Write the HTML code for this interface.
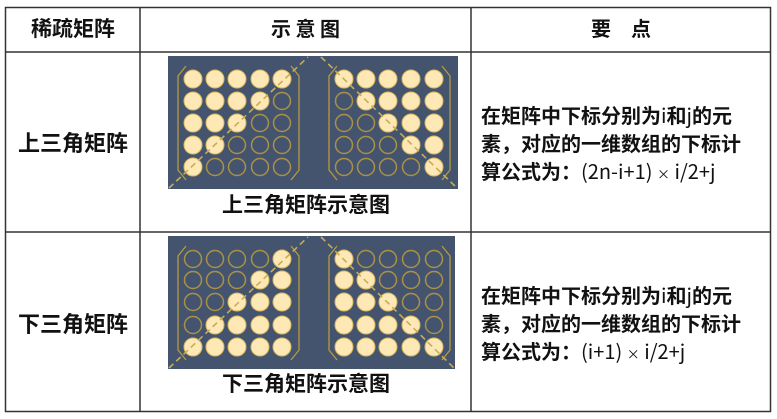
<!DOCTYPE html>
<html><head><meta charset="utf-8"><style>
body{margin:0;width:777px;height:419px;background:#fff;overflow:hidden;position:relative;font-family:"Noto Sans CJK SC","Liberation Sans",sans-serif;}
.t{position:absolute;font-weight:bold;color:#111;white-space:nowrap;}
.l{font-weight:normal}
svg{position:absolute;left:0;top:0}
</style></head><body>
<svg width="777" height="419" viewBox="0 0 777 419">
<defs>
<circle id="f" r="9" fill="#fde8b6" stroke="#d9b860" stroke-width="1"/>
<circle id="e" r="8.5" fill="none" stroke="#a99246" stroke-width="1.5"/>
</defs>
<g fill="none" stroke="#333" stroke-width="1.5">
<rect x="5.5" y="7.5" width="765" height="404"/>
<line x1="5" y1="52" x2="771" y2="52"/>
<line x1="5" y1="232" x2="771" y2="232"/>
<line x1="140" y1="7" x2="140" y2="412"/>
<line x1="471" y1="7" x2="471" y2="412"/>
</g>
<rect x="168" y="56" width="290" height="133" fill="#45546e"/>
<g fill="none" stroke="#b59a3c" stroke-width="1.3">
<polyline points="186,66 178,76 178,170 186,180"/>
<polyline points="291,66 299,76 299,170 291,180"/>
<polyline points="337,66 329,76 329,170 337,180"/>
<polyline points="442,66 450,76 450,170 442,180"/>
</g>
<g>
<use href="#f" x="193" y="79"/><use href="#f" x="215" y="79"/><use href="#f" x="237" y="79"/><use href="#f" x="260" y="79"/><use href="#f" x="282" y="79"/>
<use href="#f" x="193" y="101"/><use href="#f" x="215" y="101"/><use href="#f" x="237" y="101"/><use href="#f" x="260" y="101"/><use href="#e" x="282" y="101"/>
<use href="#f" x="193" y="123"/><use href="#f" x="215" y="123"/><use href="#f" x="237" y="123"/><use href="#e" x="260" y="123"/><use href="#e" x="282" y="123"/>
<use href="#f" x="193" y="145"/><use href="#f" x="215" y="145"/><use href="#e" x="237" y="145"/><use href="#e" x="260" y="145"/><use href="#e" x="282" y="145"/>
<use href="#f" x="193" y="167"/><use href="#e" x="215" y="167"/><use href="#e" x="237" y="167"/><use href="#e" x="260" y="167"/><use href="#e" x="282" y="167"/>
</g>
<g>
<use href="#f" x="344" y="79"/><use href="#f" x="366" y="79"/><use href="#f" x="388" y="79"/><use href="#f" x="411" y="79"/><use href="#f" x="434" y="79"/>
<use href="#e" x="344" y="101"/><use href="#f" x="366" y="101"/><use href="#f" x="388" y="101"/><use href="#f" x="411" y="101"/><use href="#f" x="434" y="101"/>
<use href="#e" x="344" y="123"/><use href="#e" x="366" y="123"/><use href="#f" x="388" y="123"/><use href="#f" x="411" y="123"/><use href="#f" x="434" y="123"/>
<use href="#e" x="344" y="145"/><use href="#e" x="366" y="145"/><use href="#e" x="388" y="145"/><use href="#f" x="411" y="145"/><use href="#f" x="434" y="145"/>
<use href="#e" x="344" y="167"/><use href="#e" x="366" y="167"/><use href="#e" x="388" y="167"/><use href="#e" x="411" y="167"/><use href="#f" x="434" y="167"/>
</g>
<g stroke="#c7ad55" stroke-width="1.6" stroke-dasharray="6,4" fill="none">
<line x1="169" y1="188" x2="308" y2="57"/>
<line x1="321" y1="57" x2="457" y2="188"/>
</g>
<rect x="168" y="236" width="287" height="133" fill="#45546e"/>
<g fill="none" stroke="#b59a3c" stroke-width="1.3">
<polyline points="186,246 178,256 178,350 186,360"/>
<polyline points="291,246 299,256 299,350 291,360"/>
<polyline points="337,246 329,256 329,350 337,360"/>
<polyline points="442,246 450,256 450,350 442,360"/>
</g>
<g>
<use href="#e" x="193" y="259"/><use href="#e" x="215" y="259"/><use href="#e" x="237" y="259"/><use href="#e" x="260" y="259"/><use href="#f" x="282" y="259"/>
<use href="#e" x="193" y="280"/><use href="#e" x="215" y="280"/><use href="#e" x="237" y="280"/><use href="#f" x="260" y="280"/><use href="#f" x="282" y="280"/>
<use href="#e" x="193" y="302"/><use href="#e" x="215" y="302"/><use href="#f" x="237" y="302"/><use href="#f" x="260" y="302"/><use href="#f" x="282" y="302"/>
<use href="#e" x="193" y="325"/><use href="#f" x="215" y="325"/><use href="#f" x="237" y="325"/><use href="#f" x="260" y="325"/><use href="#f" x="282" y="325"/>
<use href="#f" x="193" y="347"/><use href="#f" x="215" y="347"/><use href="#f" x="237" y="347"/><use href="#f" x="260" y="347"/><use href="#f" x="282" y="347"/>
</g>
<g>
<use href="#f" x="344" y="259"/><use href="#e" x="366" y="259"/><use href="#e" x="388" y="259"/><use href="#e" x="411" y="259"/><use href="#e" x="434" y="259"/>
<use href="#f" x="344" y="280"/><use href="#f" x="366" y="280"/><use href="#e" x="388" y="280"/><use href="#e" x="411" y="280"/><use href="#e" x="434" y="280"/>
<use href="#f" x="344" y="302"/><use href="#f" x="366" y="302"/><use href="#f" x="388" y="302"/><use href="#e" x="411" y="302"/><use href="#e" x="434" y="302"/>
<use href="#f" x="344" y="325"/><use href="#f" x="366" y="325"/><use href="#f" x="388" y="325"/><use href="#f" x="411" y="325"/><use href="#e" x="434" y="325"/>
<use href="#f" x="344" y="347"/><use href="#f" x="366" y="347"/><use href="#f" x="388" y="347"/><use href="#f" x="411" y="347"/><use href="#f" x="434" y="347"/>
</g>
<g stroke="#c7ad55" stroke-width="1.6" stroke-dasharray="6,4" fill="none">
<line x1="169" y1="368" x2="308" y2="237"/>
<line x1="321" y1="237" x2="454" y2="368"/>
</g>
</svg>
<div class="t" style="left:6px;width:134px;top:14px;text-align:center;font-size:21px;line-height:28px;">稀疏矩阵</div>
<div class="t" style="left:140px;width:331px;top:14px;text-align:center;font-size:20px;line-height:28px;">示 意 图</div>
<div class="t" style="left:471px;width:300px;top:14px;text-align:center;font-size:20px;line-height:28px;">要　点</div>
<div class="t" style="left:6px;width:134px;top:127px;text-align:center;font-size:22px;line-height:30px;">上三角矩阵</div>
<div class="t" style="left:6px;width:134px;top:308px;text-align:center;font-size:22px;line-height:30px;">下三角矩阵</div>
<div class="t" style="left:222px;top:190px;font-size:21px;line-height:28px;">上三角矩阵示意图</div>
<div class="t" style="left:222px;top:369px;font-size:21px;line-height:28px;">下三角矩阵示意图</div>
<div class="t" style="left:481px;top:101px;font-size:20px;line-height:28px;">在矩阵中下标分别为<span class="l">i</span>和<span class="l">j</span>的元<br>素，对应的一维数组的下标计<br>算公式为：<span class="l">(2n-i+1) <span style="font-size:13px">×</span> i/2+j</span></div>
<div class="t" style="left:481px;top:281px;font-size:20px;line-height:28px;">在矩阵中下标分别为<span class="l">i</span>和<span class="l">j</span>的元<br>素，对应的一维数组的下标计<br>算公式为：<span class="l">(i+1) <span style="font-size:13px">×</span> i/2+j</span></div>
</body></html>
